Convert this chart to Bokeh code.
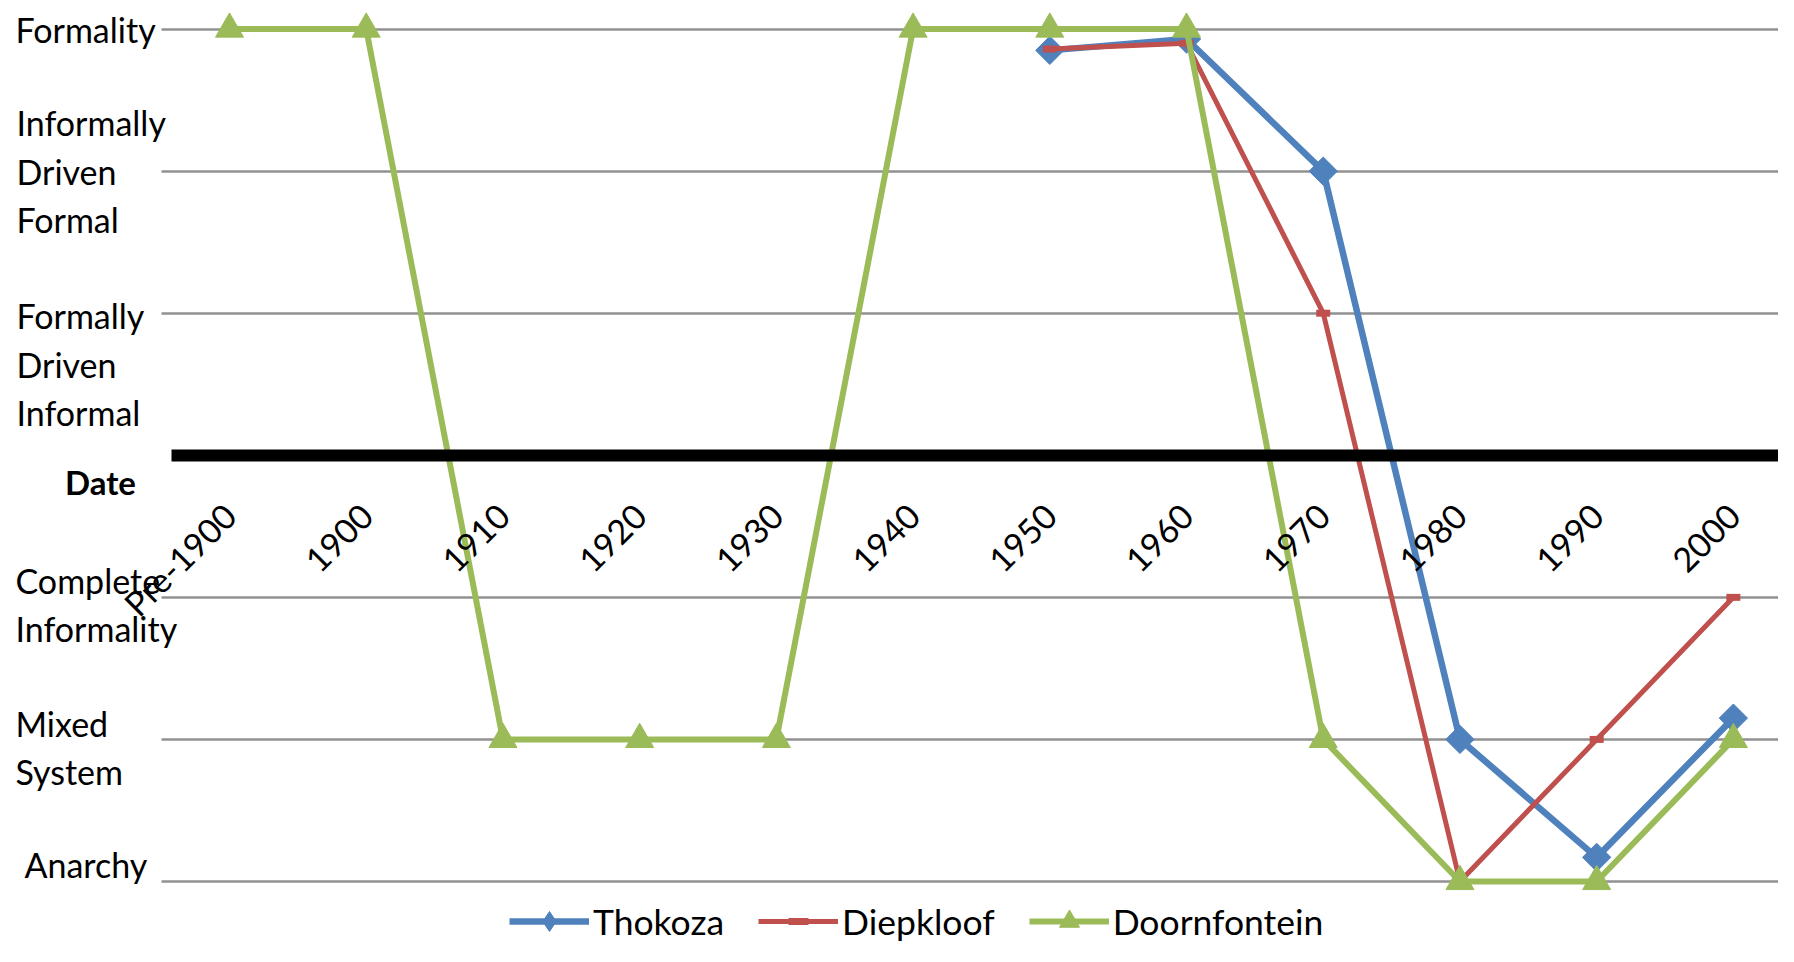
import math
from bokeh.plotting import figure
from bokeh.models import Range1d, LinearAxis, FixedTicker, Grid, Label, Legend, LegendItem
from bokeh.embed import file_html
from bokeh.resources import INLINE

nan = float("nan")

# ---- data ----
categories = ["Pre-1900", "1900", "1910", "1920", "1930", "1940",
              "1950", "1960", "1970", "1980", "1990", "2000"]
level_labels = ["Anarchy", "Mixed\nSystem", "Complete\nInformality",
                "Formally\nDriven\nInformal", "Informally\nDriven\nFormal", "Formality"]
level_values = [0, 1, 2, 4, 5, 6]
date_axis_level = 3
thokoza = [nan, nan, nan, nan, nan, nan, 5.85, 5.93, 5.0, 1.0, 0.17, 1.15]
diepkloof = [nan, nan, nan, nan, nan, nan, 5.86, 5.9, 4.0, 0.0, 1.0, 2.0]
doornfontein = [6, 6, 1, 1, 1, 6, 6, 6, 1, 0, 0, 1]

xs = list(range(len(categories)))

FONT = "Lato"
BLUE, RED, GREEN = "#4F81BD", "#C0504D", "#9BBB59"

p = figure(width=1778, height=946,
           x_range=Range1d(-1.675, 11.33), y_range=Range1d(-0.4575, 6.201),
           x_axis_location=None, y_axis_location=None,
           toolbar_location=None, output_backend="svg",
           min_border_left=0, min_border_right=0, min_border_top=0, min_border_bottom=0,
           outline_line_color=None, background_fill_color="white", border_fill_color="white")

# drop default grids
p.center = [r for r in p.center if not isinstance(r, Grid)]

# horizontal gridlines at the levels, starting where the plot area starts
p.add_layout(Grid(dimension=1, ticker=FixedTicker(ticks=level_values),
                  cross_bounds=(-0.497, 11.5),
                  grid_line_color="#919191", grid_line_width=2.5))

# series
l1 = p.line(xs, thokoza, line_color=BLUE, line_width=6.5)
s1 = p.scatter(xs, thokoza, marker="square", angle=math.pi / 4, size=20,
               fill_color=BLUE, line_color=BLUE)
l2 = p.line(xs, diepkloof, line_color=RED, line_width=5)
s2 = p.scatter(xs, diepkloof, marker="dash", size=14, line_color=RED, line_width=7)
l3 = p.line(xs, doornfontein, line_color=GREEN, line_width=6)
s3 = p.scatter(xs, doornfontein, marker="triangle", size=28,
               fill_color=GREEN, line_color=GREEN)

# legend-only diamond (not drawn in the plot: NaN position)
k1 = p.scatter([nan], [nan], marker="diamond", size=20, fill_color=BLUE, line_color=BLUE)

# date axis placed in the middle of the chart
xaxis = LinearAxis(fixed_location=date_axis_level, ticker=FixedTicker(ticks=xs),
                   bounds=(-0.424, 11.5),
                   major_label_overrides={i: c for i, c in enumerate(categories)})
xaxis.axis_line_width = 12
xaxis.axis_line_color = "black"
xaxis.major_tick_line_color = None
xaxis.minor_tick_line_color = None
xaxis.major_tick_in = 0
xaxis.major_tick_out = 0
xaxis.major_label_orientation = math.pi / 4
xaxis.major_label_standoff = 54
xaxis.major_label_text_font = FONT
xaxis.major_label_text_font_size = "34px"
xaxis.major_label_text_color = "black"
p.add_layout(xaxis, "below")

# y-level labels (left aligned, like the original)
label_x = [24, 15, 15, 16, 16, 15]
label_dy = [17, -8, -7, -51, 0, 0]
for txt, lv, lx, dy in zip(level_labels, level_values, label_x, label_dy):
    p.add_layout(Label(x=lx, y=lv, x_units="screen", y_units="data", y_offset=dy,
                       text=txt, text_font=FONT, text_font_size="34px",
                       text_align="left", text_baseline="middle",
                       text_line_height=1.18, text_color="black"))

p.add_layout(Label(x=100, y=date_axis_level, x_units="screen", y_units="data", y_offset=-27,
                   text="Date", text_font=FONT, text_font_size="33px", text_font_style="bold",
                   text_align="center", text_baseline="middle", text_color="black"))

legend = Legend(items=[LegendItem(label="Thokoza", renderers=[l1, k1]),
                       LegendItem(label="Diepkloof", renderers=[l2, s2]),
                       LegendItem(label="Doornfontein", renderers=[l3, s3])],
                orientation="horizontal", location=(509, 0),
                border_line_color=None, background_fill_alpha=0,
                padding=0, margin=0, spacing=34, label_standoff=4,
                glyph_width=80, glyph_height=50,
                label_text_font=FONT, label_text_font_size="35.5px",
                label_text_color="black")
p.add_layout(legend)

open("out.html", "w").write(file_html(p, INLINE))
